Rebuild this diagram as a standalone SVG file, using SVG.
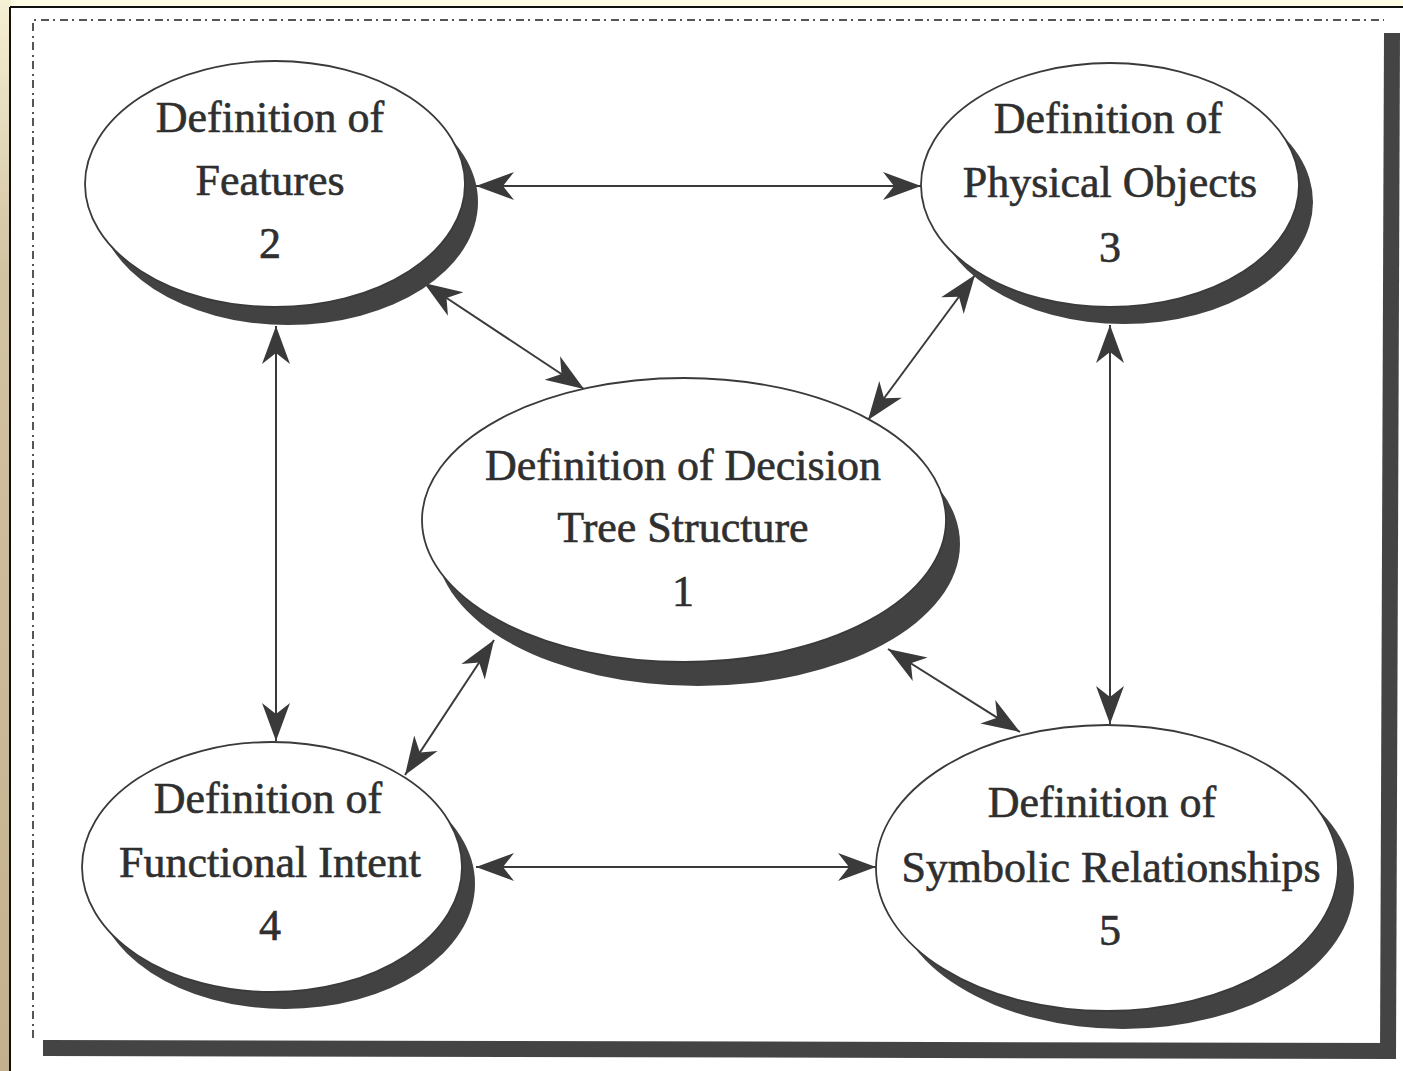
<svg xmlns="http://www.w3.org/2000/svg" width="1403" height="1071" viewBox="0 0 1403 1071">
  <defs>
    <linearGradient id="edge" x1="0" y1="0" x2="0" y2="1">
      <stop offset="0" stop-color="#f6f0d4"/>
      <stop offset="0.25" stop-color="#d2c3a3"/>
      <stop offset="1" stop-color="#c3b08e"/>
    </linearGradient>
    <marker id="head" viewBox="-40 -16 42 32" refX="0" refY="0" markerWidth="42" markerHeight="32" markerUnits="userSpaceOnUse" orient="auto-start-reverse">
      <path d="M0,0 L-38,-14 L-27,0 L-38,14 Z" fill="#3a3a3a"/>
    </marker>
    <style>
      .shadow { fill: #424242; }
      .oval { fill: #ffffff; stroke: #3a3a3a; stroke-width: 1.8; }
      .label { font-family: "Liberation Serif", "Times New Roman", serif; font-size: 44px; fill: #2f2f2f; stroke: #2f2f2f; stroke-width: 0.6; text-anchor: middle; }
      .link { stroke: #3a3a3a; stroke-width: 2; fill: none; marker-start: url(#head); marker-end: url(#head); }
      .frame { fill: none; stroke: #555555; stroke-width: 2; stroke-dasharray: 8 4 2 5; }
    </style>
  </defs>

  <!-- page backdrop -->
  <rect x="0" y="0" width="1403" height="1071" fill="#fffde6"/>
  <rect x="0" y="0" width="11" height="1071" fill="url(#edge)"/>
  <rect x="11" y="8" width="1392" height="1063" fill="#ffffff"/>
  <line x1="10" y1="7" x2="1403" y2="7" stroke="#111111" stroke-width="2"/>
  <line x1="10" y1="7" x2="10" y2="1071" stroke="#111111" stroke-width="2"/>

  <!-- dash-dot frame with drop shadow -->
  <g id="frame">
    <polygon points="1384,33 1400,33 1396,1058 1380,1058" fill="#444444"/>
    <polygon points="43,1040 1396,1043 1396,1059 43,1056" fill="#444444"/>
    <polyline class="frame" points="33,1038 33,20 1384,20"/>
  </g>

  <!-- connectors -->
  <g id="connectors">
    <line class="link" x1="476" y1="186" x2="921" y2="186"/>
    <line class="link" x1="424" y1="283" x2="584" y2="389"/>
    <line class="link" x1="975" y1="275" x2="868" y2="420"/>
    <line class="link" x1="276" y1="326" x2="276" y2="741"/>
    <line class="link" x1="1110" y1="325" x2="1110" y2="724"/>
    <line class="link" x1="494" y1="640" x2="405" y2="775"/>
    <line class="link" x1="888" y1="649" x2="1020" y2="732"/>
    <line class="link" x1="476" y1="867" x2="876" y2="867"/>
  </g>

  <!-- node 1 -->
  <g id="node1">
    <ellipse class="shadow" cx="698" cy="544" rx="262" ry="142"/>
    <ellipse class="oval" cx="684" cy="520" rx="262" ry="142"/>
    <text class="label" x="683" y="480">Definition of Decision</text>
    <text class="label" x="683" y="542">Tree Structure</text>
    <text class="label" x="683" y="606">1</text>
  </g>

  <!-- node 2 -->
  <g id="node2">
    <ellipse class="shadow" cx="288" cy="202" rx="190" ry="123"/>
    <ellipse class="oval" cx="275" cy="184" rx="190" ry="123"/>
    <text class="label" x="270" y="132">Definition of</text>
    <text class="label" x="270" y="195">Features</text>
    <text class="label" x="270" y="258">2</text>
  </g>

  <!-- node 3 -->
  <g id="node3">
    <ellipse class="shadow" cx="1124" cy="202" rx="189" ry="122"/>
    <ellipse class="oval" cx="1110" cy="185" rx="189" ry="122"/>
    <text class="label" x="1108" y="133">Definition of</text>
    <text class="label" x="1110" y="197">Physical Objects</text>
    <text class="label" x="1110" y="262">3</text>
  </g>

  <!-- node 4 -->
  <g id="node4">
    <ellipse class="shadow" cx="285" cy="884" rx="190" ry="125"/>
    <ellipse class="oval" cx="272" cy="867" rx="190" ry="125"/>
    <text class="label" x="268" y="813">Definition of</text>
    <text class="label" x="270" y="877">Functional Intent</text>
    <text class="label" x="270" y="940">4</text>
  </g>

  <!-- node 5 -->
  <g id="node5">
    <ellipse class="shadow" cx="1123" cy="886" rx="231" ry="143"/>
    <ellipse class="oval" cx="1107" cy="868" rx="231" ry="143"/>
    <text class="label" x="1102" y="817">Definition of</text>
    <text class="label" x="1111" y="882">Symbolic Relationships</text>
    <text class="label" x="1110" y="945">5</text>
  </g>
</svg>
